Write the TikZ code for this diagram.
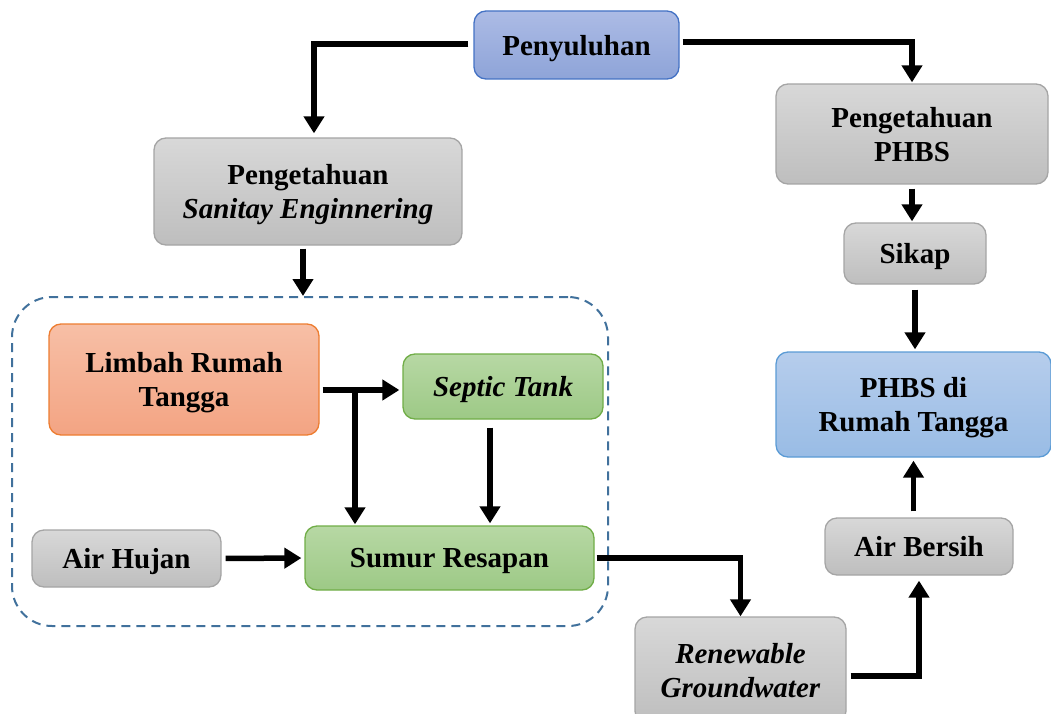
\documentclass[tikz,border=0pt]{standalone}
\usepackage{fontspec}
\setmainfont{Liberation Serif}
\usetikzlibrary{arrows.meta}
\definecolor{bluetop}{RGB}{172,187,229}
\definecolor{bluebot}{RGB}{142,164,216}
\definecolor{blueline}{RGB}{68,114,196}
\definecolor{skytop}{RGB}{182,205,236}
\definecolor{skybot}{RGB}{153,188,229}
\definecolor{skyline}{RGB}{91,155,213}
\definecolor{graytop}{RGB}{216,216,216}
\definecolor{graybot}{RGB}{190,190,190}
\definecolor{grayline}{RGB}{165,165,165}
\definecolor{orangetop}{RGB}{247,191,166}
\definecolor{orangebot}{RGB}{243,164,131}
\definecolor{orangeline}{RGB}{237,125,49}
\definecolor{greentop}{RGB}{183,216,164}
\definecolor{greenbot}{RGB}{157,201,134}
\definecolor{greenline}{RGB}{112,173,71}
\definecolor{frameline}{RGB}{65,113,156}
\begin{document}
\begin{tikzpicture}[x=1pt,y=-1pt,
  box/.style={rounded corners=12pt, align=center, inner sep=2pt, line width=1.3pt, text depth=-2pt,
    font=\fontsize{29}{34}\selectfont\bfseries},
  bluebox/.style={box, draw=blueline, top color=bluetop, bottom color=bluebot},
  skybox/.style={box, draw=skyline, top color=skytop, bottom color=skybot},
  graybox/.style={box, draw=grayline, top color=graytop, bottom color=graybot},
  orangebox/.style={box, draw=orangeline, top color=orangetop, bottom color=orangebot},
  greenbox/.style={box, draw=greenline, top color=greentop, bottom color=greenbot},
  groupframe/.style={draw=frameline, dashed, dash pattern=on 9pt off 6pt, line width=2pt, rounded corners=40pt},
  arr/.style={line width=5.5pt, -{Triangle[length=17pt,width=20pt]}}]
\useasboundingbox (0,0) rectangle (1051,714);
\node[groupframe, minimum width=596pt, minimum height=329pt] (grp) at (310,461.5) {};
\node[bluebox, minimum width=205pt, minimum height=68pt] (peny) at (576.5,45) {Penyuluhan};
\node[graybox, minimum width=308pt, minimum height=107pt] (pse) at (308,191.5) {Pengetahuan\\ \textit{Sanitay Enginnering}};
\node[graybox, minimum width=272pt, minimum height=100pt] (pphbs) at (912,134) {Pengetahuan\\ PHBS};
\node[graybox, minimum width=142pt, minimum height=61pt] (sikap) at (915,253.5) {Sikap};
\node[skybox, minimum width=275pt, minimum height=105pt] (rt) at (913.5,404.5) {PHBS di\\ Rumah Tangga};
\node[orangebox, minimum width=270pt, minimum height=111pt] (limbah) at (184,379.5) {Limbah Rumah\\ Tangga};
\node[greenbox, minimum width=200pt, minimum height=65pt] (septic) at (503,386.5) {\textit{Septic Tank}};
\node[graybox, minimum width=189pt, minimum height=57pt] (hujan) at (126.5,558.5) {Air Hujan};
\node[greenbox, minimum width=289pt, minimum height=64pt] (sumur) at (449.5,558) {Sumur Resapan};
\node[graybox, minimum width=211pt, minimum height=106pt] (renew) at (740.5,670) {\textit{Renewable}\\ \textit{Groundwater}};
\node[graybox, minimum width=188pt, minimum height=57pt] (bersih) at (919,546.5) {Air Bersih};
\coordinate (split) at (355,390);
\draw[arr, shorten <=5pt, shorten >=4pt] ([yshift=1pt]peny.west) -| ([xshift=6pt]pse.north);
\draw[arr, shorten <=3pt, shorten >=1pt] ([yshift=3pt]peny.east) -| (pphbs.north);
\draw[arr, shorten <=3pt] ([xshift=-5pt]pse.south) -- ([xshift=-5pt]pse.south |- grp.north);
\draw[arr, shorten <=4pt, shorten >=1pt] (pphbs.south) -- (pphbs.south |- sikap.north);
\draw[arr, shorten <=5pt, shorten >=2pt] (sikap.south) -- (sikap.south |- rt.north);
\draw[arr, shorten <=3pt, shorten >=3pt] (limbah.east |- split) -- (septic.west |- split);
\draw[arr, shorten <=2pt, shorten >=1pt] (split) -- (split |- sumur.north);
\draw[arr, shorten <=8pt, shorten >=2pt] ([xshift=-13pt]septic.south) -- ([xshift=-13pt]septic.south |- sumur.north);
\draw[arr, shorten <=4pt, shorten >=3pt] (hujan.east) -- (sumur.west);
\draw[arr, shorten <=2pt] (sumur.east) -| (renew.north);
\draw[arr, shorten <=4pt, shorten >=5pt] ([yshift=-6pt]renew.east) -| (bersih.south);
\draw[arr, shorten <=6pt, shorten >=3pt] (bersih.north -| rt.south) -- (rt.south);
\end{tikzpicture}
\end{document}
